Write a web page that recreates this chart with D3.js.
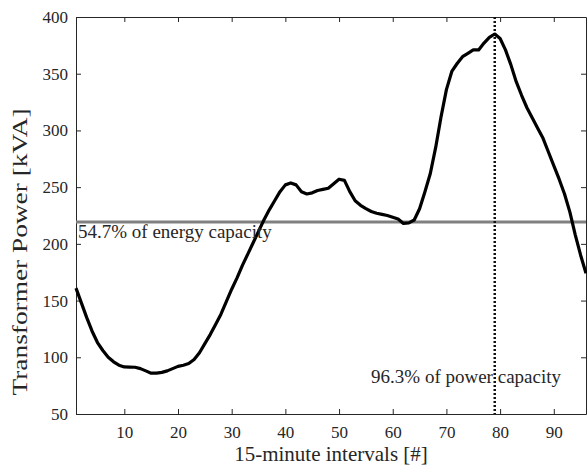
<!DOCTYPE html>
<html>
<head>
<meta charset="utf-8">
<script src="https://cdn.jsdelivr.net/npm/d3@7"></script>
<style>
  body { margin: 0; background: #fff; }
  text { font-family: "Liberation Serif", "Times New Roman", serif; fill: #262626; }
</style>
</head>
<body>
<div id="vis"></div>
<script>

// Data ----------------------------------------------------------------------

var intervals = d3.range(1, 97);

var power = [161, 148, 135, 123, 113, 106, 100, 96, 93, 91.5,
             91.4, 91.2, 90, 88, 86, 86, 86.7, 88, 90, 92,
             93, 94.5, 98, 104, 112, 120, 129, 138, 149, 160,
             170, 181, 191, 201, 211, 221, 230, 238, 246, 252,
             253.7, 252, 246, 244, 245, 247, 248, 249, 253, 257,
             256, 246, 238, 234, 231, 228.5, 227, 226, 225, 223.5,
             222, 218, 218.5, 221, 231, 246, 262, 285, 312, 336,
             352, 359, 365, 368, 371, 371, 377, 382, 385, 381,
             371, 358, 343, 331, 320, 311, 302, 293, 281, 269,
             257, 244, 228, 208, 190, 174];

var xTicks = [10, 20, 30, 40, 50, 60, 70, 80, 90];
var yTicks = [50, 100, 150, 200, 250, 300, 350, 400];

var energyLevel = 219.3;
var peakInterval = 79;

var energyLabel = "54.7% of energy capacity";
var powerLabel = "96.3% of power capacity";


// Setup ---------------------------------------------------------------------

var margin = {top: 17, right: 1, bottom: 52, left: 76},
    width = 587 - margin.left - margin.right,
    height = 466 - margin.top - margin.bottom;

var svg = d3.select("#vis").append("svg")
  .attr("width", 587)
  .attr("height", 466);

var plot = svg.append("g")
  .attr("transform", "translate(" + margin.left + "," + margin.top + ")");

var x = d3.scaleLinear()
  .domain([1, 96])
  .range([0, width]);

var y = d3.scaleLinear()
  .domain([50, 400])
  .range([height, 0]);


// Axes (box with inward ticks) ---------------------------------------------

var tickLen = 5;

function styleAxis(g) {
  g.selectAll(".domain").attr("stroke", "#262626");
  g.selectAll(".tick line").attr("stroke", "#262626");
  g.selectAll(".tick text")
    .style("font-size", "17px")
    .attr("fill", "#262626");
}

plot.append("g")
  .attr("transform", "translate(0," + height + ")")
  .call(d3.axisBottom(x).tickValues(xTicks).tickSizeInner(-tickLen).tickSizeOuter(0).tickPadding(12))
  .call(styleAxis);

plot.append("g")
  .call(d3.axisLeft(y).tickValues(yTicks).tickSizeInner(-tickLen).tickSizeOuter(0).tickPadding(8))
  .call(styleAxis);

plot.append("g")
  .call(d3.axisTop(x).tickValues(xTicks).tickSizeInner(-tickLen).tickSizeOuter(0).tickFormat(""))
  .call(styleAxis);

plot.append("g")
  .attr("transform", "translate(" + width + ",0)")
  .call(d3.axisRight(y).tickValues(yTicks).tickSizeInner(-tickLen).tickSizeOuter(0).tickFormat(""))
  .call(styleAxis);


// Labels --------------------------------------------------------------------

svg.append("text")
  .attr("x", margin.left + width / 2)
  .attr("y", 461)
  .attr("text-anchor", "middle")
  .style("font-size", "21px")
  .text("15-minute intervals [#]");

// the y title is drawn longer than its glyph size in the original
svg.append("text")
  .attr("transform", "translate(27,252) rotate(-90)")
  .attr("text-anchor", "middle")
  .attr("textLength", 287)
  .attr("lengthAdjust", "spacingAndGlyphs")
  .style("font-size", "21px")
  .text("Transformer Power [kVA]");


// Reference lines -----------------------------------------------------------

plot.append("line")
  .attr("x1", 0)
  .attr("x2", width)
  .attr("y1", y(energyLevel))
  .attr("y2", y(energyLevel))
  .attr("stroke", "#808080")
  .attr("stroke-width", 3);

plot.append("line")
  .attr("x1", x(peakInterval))
  .attr("x2", x(peakInterval))
  .attr("y1", 0)
  .attr("y2", height)
  .attr("stroke", "#111")
  .attr("stroke-width", 2.5)
  .attr("stroke-dasharray", "2,2");


// Curve ---------------------------------------------------------------------

var line = d3.line()
  .x(function(d, i) { return x(intervals[i]); })
  .y(function(d) { return y(d); });

plot.append("path")
  .datum(power)
  .attr("fill", "none")
  .attr("stroke", "#000")
  .attr("stroke-width", 3.2)
  .attr("stroke-linejoin", "round")
  .attr("d", line);


// Annotations ---------------------------------------------------------------

plot.append("text")
  .attr("x", 2)
  .attr("y", y(energyLevel) + 16)
  .style("font-size", "19px")
  .text(energyLabel);

plot.append("text")
  .attr("x", 485)
  .attr("y", 366)
  .attr("text-anchor", "end")
  .style("font-size", "19px")
  .text(powerLabel);

</script>
</body>
</html>
